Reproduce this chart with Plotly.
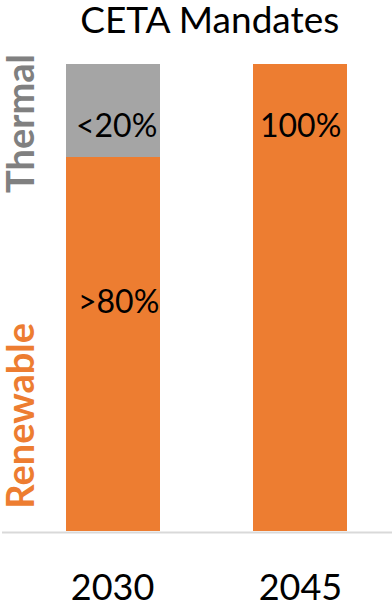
import plotly.graph_objects as go

years = ["2030", "2045"]
renewable = [80, 100]
thermal = [20, 0]
renew_labels = [">80%", "100%"]
thermal_labels = ["<20%", ""]

ORANGE = "#ED7D31"
GRAY = "#A5A5A5"
FONT = "Lato"

xpos = list(range(len(years)))

fig = go.Figure()
fig.add_trace(go.Bar(x=xpos, y=renewable, marker=dict(color=ORANGE, line=dict(width=0)),
                     width=0.5, name="Renewable", hoverinfo="skip"))
fig.add_trace(go.Bar(x=xpos, y=thermal, marker=dict(color=GRAY, line=dict(width=0)),
                     width=0.5, name="Thermal", hoverinfo="skip"))

annos = []
# value labels
annos.append(dict(x=xpos[0] + 0.02, y=87, text=thermal_labels[0], showarrow=False,
                  font=dict(family=FONT, size=32, color="black"), xref="x", yref="y"))
annos.append(dict(x=xpos[0] + 0.03, y=49.3, text=renew_labels[0], showarrow=False,
                  font=dict(family=FONT, size=32, color="black"), xref="x", yref="y"))
annos.append(dict(x=xpos[1], y=87, text=renew_labels[1], showarrow=False,
                  font=dict(family=FONT, size=32, color="black"), xref="x", yref="y"))
# side labels
annos.append(dict(x=-0.497, y=87.2, text="<b>Thermal</b>", textangle=-90, showarrow=False,
                  font=dict(family=FONT, size=38, color="#808080"), xref="x", yref="y"))
annos.append(dict(x=-0.497, y=24.7, text="<b>Renewable</b>", textangle=-90, showarrow=False,
                  font=dict(family=FONT, size=38, color=ORANGE), xref="x", yref="y"))

fig.update_layout(
    barmode="stack",
    width=392, height=608,
    margin=dict(l=2, r=0, t=64, b=75),
    paper_bgcolor="white", plot_bgcolor="white",
    showlegend=False,
    title=dict(text="CETA Mandates", x=0.535, xanchor="center", y=0.967, yanchor="middle",
               font=dict(family=FONT, size=37, color="black")),
    xaxis=dict(range=[-0.588, 1.487], tickvals=xpos, ticktext=years,
               tickfont=dict(family=FONT, size=36, color="black"),
               showgrid=False, zeroline=False, showline=False, ticks="",
               ticklabelstandoff=32),
    yaxis=dict(range=[0, 100], visible=False, showgrid=False, zeroline=False),
    annotations=annos,
    shapes=[dict(type="line", xref="paper", yref="paper", x0=0, x1=1, y0=-0.003, y1=-0.003,
                 line=dict(color="#D9D9D9", width=2))],
)

fig.write_html("out.html", config={"displayModeBar": False},
               post_script="document.body.style.margin='0';")
